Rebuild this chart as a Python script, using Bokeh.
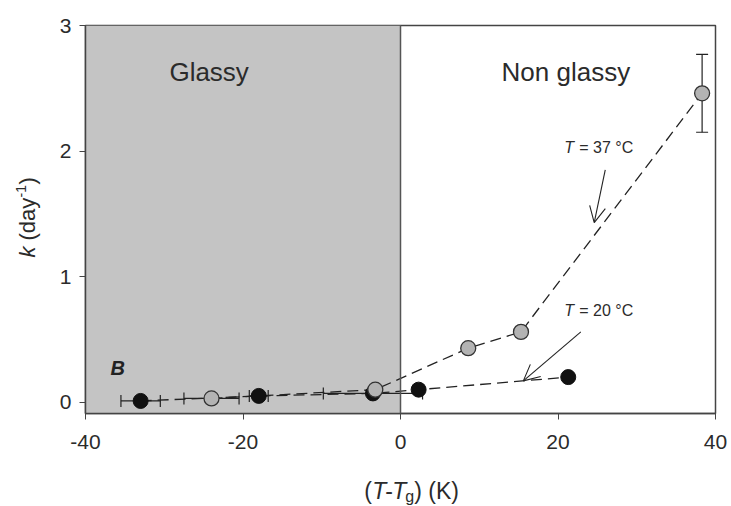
import math
from bokeh.plotting import figure
from bokeh.layouts import row, column
from bokeh.models import (ColumnDataSource, Whisker, TeeHead, Arrow, OpenHead,
                          Label, Span, FixedTicker, BoxAnnotation)
from bokeh.embed import file_html
from bokeh.resources import INLINE

# ---- data ----
black_x = [-33.0, -18.0, -3.5, 2.3, 21.3]
black_y = [0.01, 0.05, 0.07, 0.10, 0.20]
black_xerr = [2.5, 1.2, 6.3, 0.0, 0.0]

gray_x = [-24.0, -3.2, 8.6, 15.3, 38.3]
gray_y = [0.03, 0.10, 0.43, 0.56, 2.46]
gray_xerr = [3.5, 0.0, 0.0, 0.0, 0.0]
gray_yerr = [0.0, 0.0, 0.0, 0.0, 0.31]

x_ticks = [-40, -20, 0, 20, 40]
x_tick_labels = ["-40", "-20", "0", "20", "40"]
y_ticks = [0, 1, 2, 3]
glassy_region = (-40, 0)

FONT = "Liberation Sans"
TXT = "#2b2b2b"

LEFT_W = 44
BOTTOM_H = 40
W, H = 731, 506

p = figure(width=W - LEFT_W, height=H - BOTTOM_H, output_backend="svg", toolbar_location=None,
           x_range=(-40, 40), y_range=(-0.09, 3.0),
           min_border_left=85 - LEFT_W, min_border_right=16, min_border_top=25, min_border_bottom=53)
p.background_fill_color = "white"
p.border_fill_color = "white"
p.grid.visible = False
p.outline_line_color = "#444444"
p.outline_line_width = 1.5

for ax in (p.xaxis, p.yaxis):
    ax.axis_line_color = "#444444"
    ax.axis_line_width = 1.5
    ax.major_tick_line_color = "#444444"
    ax.major_tick_in = 0
    ax.major_tick_out = 6
    ax.minor_tick_line_color = None
    ax.major_label_text_font = FONT
    ax.major_label_text_font_size = "21px"
    ax.major_label_text_color = TXT
p.xaxis.ticker = FixedTicker(ticks=x_ticks)
p.xaxis.major_label_overrides = {t: s for t, s in zip(x_ticks, x_tick_labels)}
p.yaxis.ticker = FixedTicker(ticks=y_ticks)
p.xaxis.major_label_standoff = 15
p.yaxis.major_label_standoff = 8

# glassy shaded region
p.add_layout(BoxAnnotation(left=glassy_region[0], right=glassy_region[1],
                           fill_color="#c4c4c4", fill_alpha=1.0, line_color=None, level="underlay"))
p.add_layout(Span(location=glassy_region[1], dimension="height", line_color="#555555", line_width=1.5))

# dashed connecting lines
p.line(black_x, black_y, line_color="#222222", line_width=1.3, line_dash="11 6")
p.line(gray_x, gray_y, line_color="#222222", line_width=1.3, line_dash="11 6")

# error bars
bsrc = ColumnDataSource(dict(x=black_x, y=black_y,
                             xl=[a - e for a, e in zip(black_x, black_xerr)],
                             xu=[a + e for a, e in zip(black_x, black_xerr)]))
gsrc = ColumnDataSource(dict(x=gray_x, y=gray_y,
                             xl=[a - e for a, e in zip(gray_x, gray_xerr)],
                             xu=[a + e for a, e in zip(gray_x, gray_xerr)],
                             yl=[a - e for a, e in zip(gray_y, gray_yerr)],
                             yu=[a + e for a, e in zip(gray_y, gray_yerr)]))
for src in (bsrc, gsrc):
    w = Whisker(source=src, base="y", lower="xl", upper="xu", dimension="width",
                line_color="#222222", line_width=1.2,
                upper_head=TeeHead(size=12, line_color="#222222", line_width=1.2),
                lower_head=TeeHead(size=12, line_color="#222222", line_width=1.2))
    p.add_layout(w)
wy = Whisker(source=gsrc, base="x", lower="yl", upper="yu", dimension="height",
             line_color="#222222", line_width=1.2,
             upper_head=TeeHead(size=12, line_color="#222222", line_width=1.2),
             lower_head=TeeHead(size=12, line_color="#222222", line_width=1.2))
p.add_layout(wy)

# markers
p.scatter(black_x, black_y, size=15, fill_color="#111111", line_color="#111111", line_width=1)
p.scatter(gray_x, gray_y, size=15, fill_color="#b3b3b3", line_color="#333333", line_width=1.3)


def lab(fig, x, y, text, size, style="normal", xo=0, yo=0, angle=0, align="left",
        baseline="alphabetic", color=TXT):
    fig.add_layout(Label(x=x, y=y, text=text, text_font=FONT,
                         text_font_size=f"{size}px", text_font_style=style,
                         x_offset=xo, y_offset=yo, angle=angle,
                         text_align=align, text_baseline=baseline, text_color=color))


# region names
lab(p, -24.3, 2.63, "Glassy", 26, align="center", baseline="middle")
lab(p, 21.0, 2.63, "Non glassy", 26, align="center", baseline="middle")
lab(p, -35.9, 0.27, "B", 20, style="bold italic", align="center", baseline="middle", color="#222222")

# T annotations
lab(p, 20.8, 2.03, "T", 16, style="italic", baseline="middle")
lab(p, 20.8, 2.03, "= 37 °C", 16, xo=15, baseline="middle")
lab(p, 20.8, 0.73, "T", 16, style="italic", baseline="middle")
lab(p, 20.8, 0.73, "= 20 °C", 16, xo=15, baseline="middle")

p.add_layout(Arrow(x_start=26.0, y_start=1.85, x_end=24.6, y_end=1.43,
                   line_color="#222222", line_width=1.1,
                   end=OpenHead(size=16, line_color="#222222", line_width=1.1)))
p.add_layout(Arrow(x_start=22.9, y_start=0.56, x_end=15.6, y_end=0.17,
                   line_color="#222222", line_width=1.1,
                   end=OpenHead(size=16, line_color="#222222", line_width=1.1)))


def strip(width, height):
    f = figure(width=width, height=height, output_backend="svg", toolbar_location=None,
               x_range=(0, width), y_range=(0, height), min_border=0)
    f.axis.visible = False
    f.grid.visible = False
    f.outline_line_color = None
    f.background_fill_color = "white"
    f.border_fill_color = "white"
    return f


# x axis label strip: (T-Tg) (K)
xs = strip(W - LEFT_W, BOTTOM_H)
bx, by = 348 - LEFT_W, 16
lab(xs, bx, by, "(", 23)
lab(xs, bx, by, "T", 23, style="italic", xo=8)
lab(xs, bx, by, "-", 23, xo=21)
lab(xs, bx, by, "T", 23, style="italic", xo=28)
lab(xs, bx, by, "g", 16, xo=41, yo=-6)
lab(xs, bx, by, ") (K)", 23, xo=50)

# y axis label strip: k (day-1), rotated
ys = strip(LEFT_W, H)
ang = math.pi / 2
yx, yy = 27, H - 257
lab(ys, yx, yy, "k", 22, style="italic", angle=ang, baseline="middle")
lab(ys, yx, yy, "(day", 22, angle=ang, baseline="middle", yo=17)
lab(ys, yx, yy, "-1", 14, angle=ang, baseline="middle", yo=60, xo=-7)
lab(ys, yx, yy, ")", 22, angle=ang, baseline="middle", yo=73)

layout = row(ys, column(p, xs))
open("out.html", "w").write(file_html(layout, INLINE))
